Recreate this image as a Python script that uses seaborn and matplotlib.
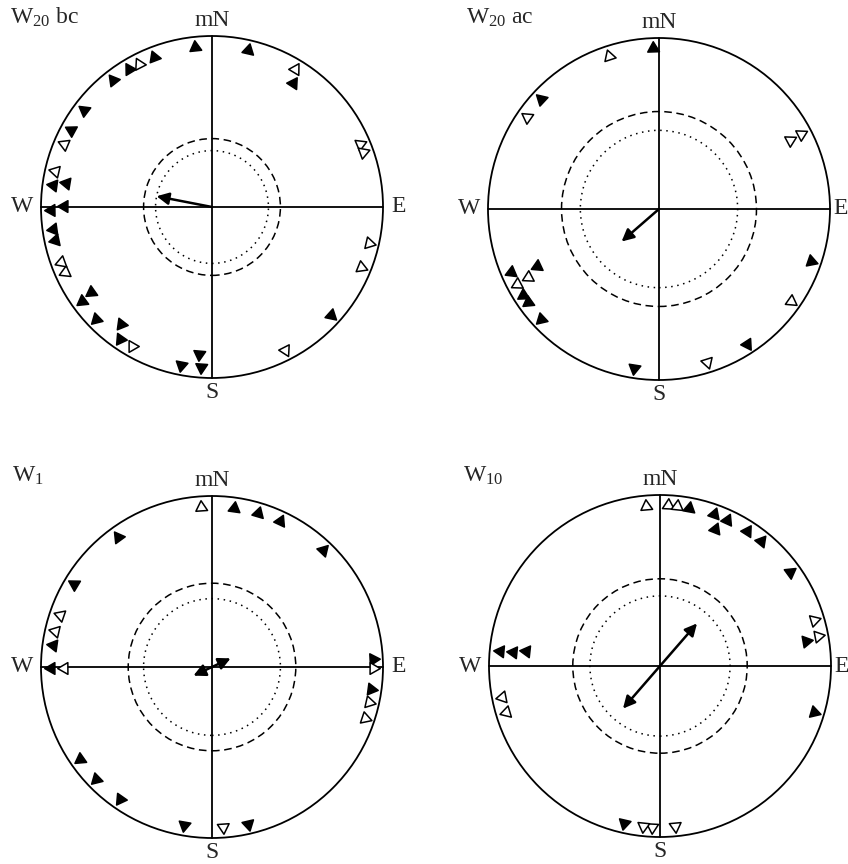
import numpy as np
import pandas as pd
import matplotlib
matplotlib.use("Agg")
import matplotlib.pyplot as plt
import seaborn as sns
from matplotlib.patches import Circle

# ---------------- data ----------------
titles = [r"W$_{20}$ bc", r"W$_{20}$ ac", r"W$_{1}$", r"W$_{10}$"]

# azimuth (deg, clockwise from magnetic north), filled (1) / open (0), stacking row
p1_az = [354, 13, 31, 33, 67, 70, 103, 112, 132, 153, 185, 184, 191, 210, 215, 218,
         226, 234, 235, 246, 250, 258, 262, 269, 270.5, 278, 279.5, 283, 293, 298.5,
         307, 322, 329, 333, 339]
p1_fill = [1, 1, 0, 1, 0, 0, 0, 0, 1, 0, 1, 1, 1, 0, 1, 1,
           1, 1, 1, 0, 0, 1, 1, 1, 1, 1, 1, 0, 0, 1,
           1, 1, 1, 0, 1]
p1_row = [0, 0, 0, 1, 0, 0, 0, 0, 0, 0, 1, 0, 0, 0, 0, 1,
          0, 0, 1, 0, 0, 0, 0, 0, 1, 0, 1, 0, 0, 0,
          0, 0, 0, 0, 0]

p2_az = [358, 342, 313, 305, 62, 62.3, 109, 125, 147, 162.5, 189, 227, 234.5, 237.5,
         242, 242.5, 247, 245]
p2_fill = [1, 0, 1, 0, 0, 0, 1, 0, 1, 0, 1, 1, 1, 1, 0, 0, 1, 1]
p2_row = [0, 0, 0, 0, 1, 0, 0, 0, 0, 0, 0, 0, 0, 0, 0, 1, 0, 2]

p3_az = [356, 8, 16.5, 25, 43.5, 87, 90.5, 97.7, 102.7, 108.4, 167, 176, 190, 215,
         226, 235, 269.6, 269.6, 278, 283, 289, 301, 324]
p3_fill = [0, 1, 1, 1, 1, 1, 0, 1, 0, 0, 1, 0, 1, 1, 1, 1, 1, 0, 1, 0, 0, 1, 1]
p3_row = [0, 0, 0, 0, 0, 0, 0, 0, 0, 0, 0, 0, 0, 0, 0, 0, 0, 1, 0, 0, 0, 0, 0]

p4_az = [355, 3, 6, 10.3, 19.5, 24.7, 21.7, 32.6, 39, 54, 73.3, 79.2, 80.1, 106.8,
         174.7, 183, 186, 193, 253.5, 259, 275.2, 275.6, 276.2]
p4_fill = [0, 0, 0, 1, 1, 1, 1, 1, 1, 1, 0, 0, 1, 1, 0, 0, 0, 1, 0, 0, 1, 1, 1]
p4_row = [0, 0, 0, 0, 0, 0, 1, 0, 0, 0, 0, 0, 1, 0, 0, 0, 0, 0, 0, 0, 0, 1, 2]

# mean vector: azimuth, length (fraction of radius), axial (double-headed)
mean_az = [281, 229, 65, 41]
mean_len = [0.33, 0.29, 0.12, 0.33]
mean_axial = [False, False, True, True]

# significance circles (fraction of radius)
dashed_r = [0.40, 0.57, 0.49, 0.51]
dotted_r = [0.33, 0.46, 0.40, 0.41]

azs = [p1_az, p2_az, p3_az, p4_az]
fills = [p1_fill, p2_fill, p3_fill, p4_fill]
rows = [p1_row, p2_row, p3_row, p4_row]

# ---------------- style ----------------
sns.set_theme(style="white")
plt.rcParams["font.family"] = ["Liberation Serif", "DejaVu Serif"]
plt.rcParams["mathtext.fontset"] = "custom"
plt.rcParams["mathtext.rm"] = "Liberation Serif"
plt.rcParams["mathtext.it"] = "Liberation Serif:italic"

W, H = 848, 864
fig = plt.figure(figsize=(W / 100, H / 100), dpi=100)
fig.patch.set_facecolor("white")

R_PX = 171.0
HALF = 1.2
centers = [(212, 207), (659, 209), (212, 667), (660, 666)]
title_pos = [(-1.18, 1.11), (-1.13, 1.12), (-1.17, 1.12), (-1.15, 1.11)]
east_x = [1.09, 1.06, 1.09, 1.06]
row_r = {0: 0.94, 1: 0.865, 2: 0.79}

for i in range(4):
    cx, cy = centers[i]
    side = 2 * HALF * R_PX
    left = (cx - HALF * R_PX) / W
    bottom = (H - cy - HALF * R_PX) / H
    ax = fig.add_axes([left, bottom, side / W, side / H])
    ax.set_xlim(-HALF, HALF)
    ax.set_ylim(-HALF, HALF)
    ax.set_aspect("equal")
    ax.axis("off")
    ax.patch.set_alpha(0)

    ax.add_patch(Circle((0, 0), 1.0, fill=False, lw=1.3, color="black"))
    ax.add_patch(Circle((0, 0), dashed_r[i], fill=False, lw=1.1, color="black",
                        linestyle=(0, (5, 3))))
    ax.add_patch(Circle((0, 0), dotted_r[i], fill=False, lw=1.1, color="black",
                        linestyle=(0, (1, 3))))
    ax.plot([-1, 1], [0, 0], color="black", lw=1.3)
    ax.plot([0, 0], [-1, 1], color="black", lw=1.3)

    df = pd.DataFrame({"az": azs[i], "fill": fills[i], "row": rows[i]})
    df["r"] = df["row"].map(row_r)
    df["x"] = df["r"] * np.sin(np.radians(df["az"]))
    df["y"] = df["r"] * np.cos(np.radians(df["az"]))
    for _, p in df.iterrows():
        sns.scatterplot(x=[p["x"]], y=[p["y"]], ax=ax, marker=(3, 0, -p["az"]),
                        s=95, color="black" if p["fill"] else "white",
                        edgecolor="black", linewidth=1.1, zorder=5, legend=False)

    a = np.radians(mean_az[i])
    L = mean_len[i]
    tip = (L * np.sin(a), L * np.cos(a))
    if mean_axial[i]:
        tail = (-tip[0], -tip[1])
        style = "<|-|>"
    else:
        tail = (0, 0)
        style = "-|>"
    ax.annotate("", xy=tip, xytext=tail,
                arrowprops=dict(arrowstyle=style, color="black", lw=1.8,
                                mutation_scale=18, shrinkA=0, shrinkB=0))

    fs = 17
    ax.text(0, 1.09, "mN", ha="center", va="center", fontsize=fs, clip_on=False)
    ax.text(0, -1.085, "S", ha="center", va="center", fontsize=fs, clip_on=False)
    ax.text(-1.11, 0, "W", ha="center", va="center", fontsize=fs, clip_on=False)
    ax.text(east_x[i], 0, "E", ha="center", va="center", fontsize=fs, clip_on=False)
    tx, ty = title_pos[i]
    ax.text(tx, ty, titles[i], ha="left", va="center", fontsize=fs, clip_on=False)

fig.savefig("out.png", dpi=100, facecolor="white")
